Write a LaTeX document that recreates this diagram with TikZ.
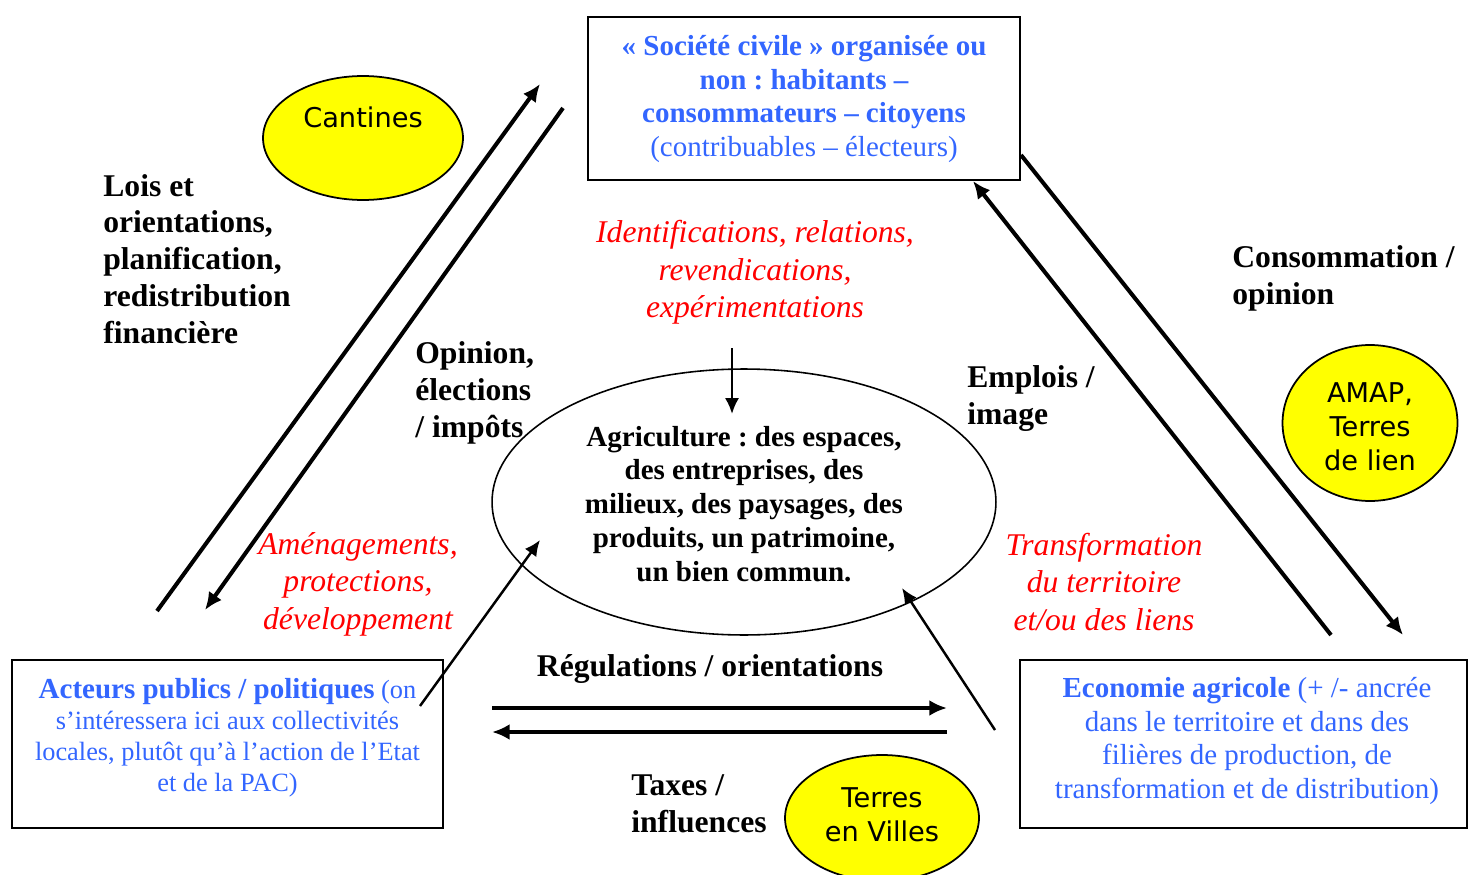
\documentclass[tikz,border=0pt]{standalone}
\usepackage{fontspec}
\setmainfont{Liberation Serif}
\newfontfamily\verd{DejaVu Sans}
\usetikzlibrary{arrows.meta,shapes.geometric}
\definecolor{blu}{HTML}{3366FF}
\definecolor{rd}{HTML}{FF0000}
\definecolor{yel}{HTML}{FFFF00}
\frenchspacing
\begin{document}
\begin{tikzpicture}[x=0.02cm,y=-0.02cm,
  boxnode/.style={draw, line width=1.1pt, inner sep=0, rectangle},
  bluetxt/.style={text=blu, align=center, inner sep=0},
  lbl/.style={font=\fontsize{18}{21}\selectfont\bfseries, align=left, inner sep=0},
  redlbl/.style={font=\fontsize{18}{21.3}\selectfont\itshape, text=rd, align=center, inner sep=0},
  bub/.style={ellipse, draw, fill=yel, line width=1pt, inner sep=0},
  bubtxt/.style={font=\verd\fontsize{15.5}{19.3}\selectfont, align=center, inner sep=0},
  bigarrow/.style={line width=2.3pt, -{Latex[length=10pt,width=9pt]}},
  smallarrow/.style={line width=1.4pt, -{Latex[length=9pt,width=8pt]}}]
\useasboundingbox (0,0) rectangle (1468,875);

% boxes
\node[boxnode, minimum width=8.64cm, minimum height=3.26cm] (soc) at (804,98.5) {};
\node[bluetxt, font=\fontsize{16.5}{19.3}\selectfont] (soctxt) at (804,99)
  {\bfseries « Société civile » organisée ou\\ \bfseries non : habitants –\\ \bfseries consommateurs – citoyens\\ (contribuables – électeurs)};

\node[boxnode, minimum width=8.62cm, minimum height=3.36cm] (act) at (227.5,744) {};
\node[bluetxt, font=\fontsize{15}{17.6}\selectfont] (acttxt) at (227.5,738)
  {{\fontsize{16.5}{17.6}\selectfont\bfseries Acteurs publics / politiques} (on\\ s’intéressera ici aux collectivités\\ locales, plutôt qu’à l’action de l’Etat\\ et de la PAC)};

\node[boxnode, minimum width=8.94cm, minimum height=3.36cm] (eco) at (1243.5,744) {};
\node[bluetxt, font=\fontsize{16.5}{19.3}\selectfont] (ecotxt) at (1247,741)
  {{\bfseries Economie agricole} (+ /- ancrée\\ dans le territoire et dans des\\ filières de production, de\\ transformation et de distribution)};

% central ellipse
\node[ellipse, draw, line width=0.9pt, inner sep=0, minimum width=10.08cm, minimum height=5.32cm] (agri) at (744,502) {};
\node[font=\fontsize{16.5}{19.3}\selectfont\bfseries, align=center, inner sep=0] (agritxt) at (744,504)
  {Agriculture : des espaces,\\ des entreprises, des\\ milieux, des paysages, des\\ produits, un patrimoine,\\ un bien commun.};

% yellow bubbles
\node[bub, minimum width=4cm, minimum height=2.48cm] (cant) at (363,138) {};
\node[bubtxt] (canttxt) at (363,117) {Cantines};
\node[bub, minimum width=3.5cm, minimum height=3.12cm] (amap) at (1370,423) {};
\node[bubtxt] (amaptxt) at (1370,427) {AMAP,\\ Terres\\ de lien};
\node[bub, minimum width=3.88cm, minimum height=2.52cm] (tev) at (882,818) {};
\node[bubtxt] (tevtxt) at (882,815) {Terres\\ en Villes};

% labels
\node[lbl, anchor=west] (lois) at (103,259) {Lois et\\ orientations,\\ planification,\\ redistribution\\ financière};
\node[lbl, anchor=west] (opin) at (415,393) {Opinion,\\ élections\\ / impôts};
\node[lbl, anchor=west] (empl) at (967,398.5) {Emplois /\\ image};
\node[lbl, anchor=west] (cons) at (1232,278) {Consommation /\\ opinion};
\node[lbl, align=center] (regu) at (710,669) {Régulations / orientations};
\node[lbl, anchor=west] (taxe) at (631,804) {Taxes /\\ influences};

\node[redlbl] (ident) at (755,272.5) {Identifications, relations,\\ revendications,\\ expérimentations};
\node[redlbl] (amen) at (358,584) {Aménagements,\\ protections,\\ développement};
\node[redlbl] (trans) at (1104,582) {Transformation\\ du territoire\\ et/ou des liens};

% arrow end points
\coordinate (a1s) at (157,611); \coordinate (a1e) at (540,84);
\coordinate (a2s) at (563,108); \coordinate (a2e) at (205,610);
\coordinate (a3s) at (420,706); \coordinate (a3e) at (540,540);
\coordinate (a4s) at (732,348); \coordinate (a4e) at (732,414);
\coordinate (a5s) at (995,730); \coordinate (a5e) at (902,588);
\coordinate (a6s) at (1331,635); \coordinate (a6e) at (973,181);
\coordinate (a7s) at (1021,155); \coordinate (a7e) at (1403,635);
\coordinate (a8s) at (492,708); \coordinate (a8e) at (947,708);
\coordinate (a9s) at (947,732); \coordinate (a9e) at (492,732);

\draw[bigarrow] (a1s) -- (a1e);
\draw[bigarrow] (a2s) -- (a2e);
\draw[smallarrow] (a3s) -- (a3e);
\draw[smallarrow] (a4s) -- (a4e);
\draw[smallarrow] (a5s) -- (a5e);
\draw[bigarrow] (a6s) -- (a6e);
\draw[bigarrow] (a7s) -- (a7e);
\draw[bigarrow] (a8s) -- (a8e);
\draw[bigarrow] (a9s) -- (a9e);
\end{tikzpicture}
\end{document}
